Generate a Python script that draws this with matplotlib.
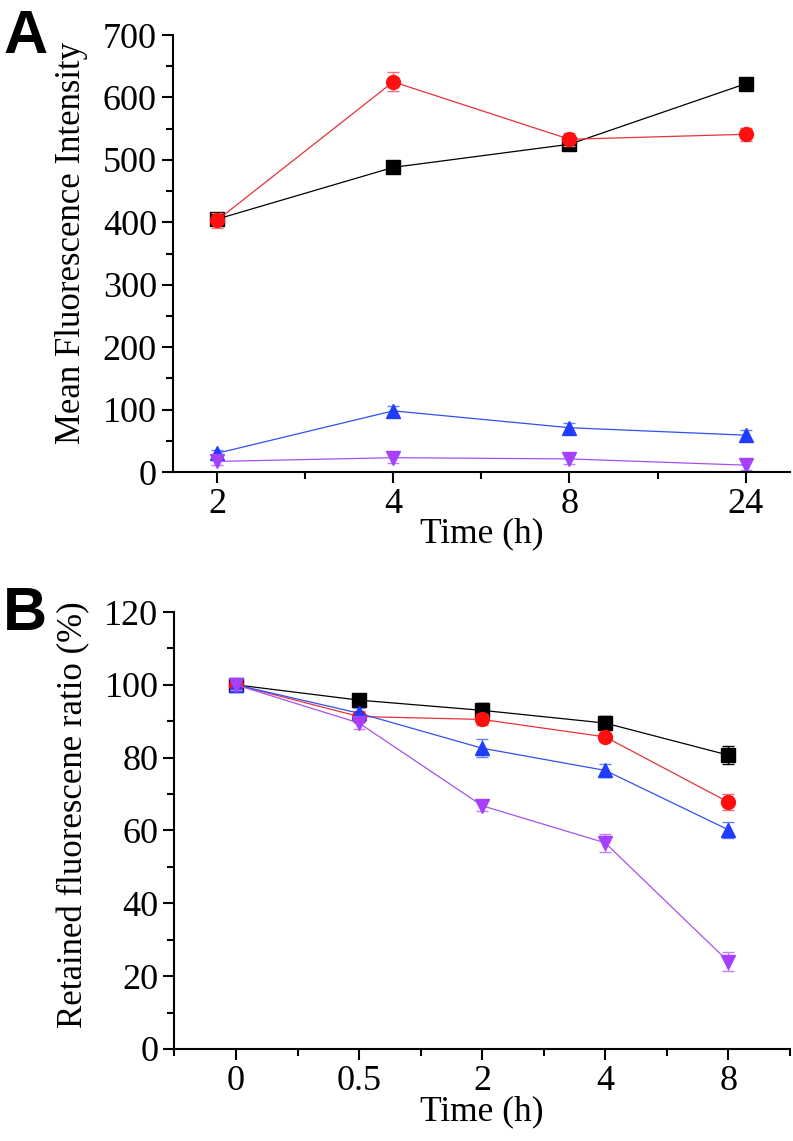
import numpy as np
import matplotlib.pyplot as plt
from matplotlib.ticker import MultipleLocator

plt.rcParams['font.family'] = ['Liberation Serif', 'DejaVu Serif']

# Panel A data
a_labels = ['2', '4', '8', '24']
a_black = [405, 488, 525, 622]
a_black_err = [8, 8, 5, 5]
a_red = [403, 625, 533, 541]
a_red_err = [12, 15, 10, 10]
a_blue = [30, 98, 71, 59]
a_blue_err = [6, 8, 8, 8]
a_purple = [17, 23, 21, 11]
a_purple_err = [5, 8, 8, 8]

# Panel B data
b_labels = ['0', '0.5', '2', '4', '8']
b_black = [100, 95.8, 93.0, 89.5, 80.7]
b_black_err = [1.5, 1.0, 2.0, 2.0, 2.5]
b_red = [100, 91.3, 90.5, 85.7, 67.8]
b_red_err = [1.5, 1.5, 1.5, 1.2, 2.2]
b_blue = [100, 92.2, 82.6, 76.5, 60.2]
b_blue_err = [1.5, 1.5, 2.5, 1.8, 2.2]
b_purple = [100, 89.5, 66.8, 56.6, 24.0]
b_purple_err = [1.5, 1.5, 1.5, 2.5, 2.5]

colors = ['#000000', '#ff1010', '#1f3cff', '#a640ff']
line_colors = ['#000000', '#e8303a', '#3050f0', '#a650f0']
ecolors = ['#000000', '#f07080', '#6080ff', '#c080ff']
markers = ['s', 'o', '^', 'v']

fig = plt.figure(figsize=(7.93, 11.41), dpi=100)
axA = fig.add_axes([0.218, 0.5863, 0.778, 0.383])
axB = fig.add_axes([0.220, 0.0807, 0.776, 0.3829])


def draw(ax, labels, series, errs):
    x = np.arange(len(labels))
    for ys, es, c, lc, ec, m in zip(series, errs, colors, line_colors, ecolors, markers):
        ax.errorbar(x, ys, yerr=es, fmt='none', ecolor=ec, elinewidth=1.0,
                    capsize=4, capthick=1.0)
        ax.plot(x, ys, color=lc, linewidth=0.9)
        ax.plot(x, ys, linestyle='none', marker=m, markersize=10,
                markerfacecolor=c, markeredgecolor=c)
    ax.set_xticks(x)
    ax.set_xticklabels(labels)
    ax.xaxis.set_minor_locator(MultipleLocator(0.5))
    for s in ['top', 'right']:
        ax.spines[s].set_visible(False)
    for s in ['left', 'bottom']:
        ax.spines[s].set_linewidth(1.5)
    ax.tick_params(which='major', direction='out', length=8, width=1.5, labelsize=26)
    ax.tick_params(which='minor', direction='out', length=5, width=1.5)


draw(axA, a_labels, [a_black, a_red, a_blue, a_purple],
     [a_black_err, a_red_err, a_blue_err, a_purple_err])
axA.set_xlim(-0.25, 3.25)
axA.set_ylim(0, 700)
axA.yaxis.set_major_locator(MultipleLocator(100))
axA.yaxis.set_minor_locator(MultipleLocator(50))
axA.set_ylabel('Mean Fluorescence Intensity', fontsize=25)
axA.yaxis.set_label_coords(-0.137, 0.525)
axA.set_xlabel('Time (h)', fontsize=25.5, labelpad=-3)

draw(axB, b_labels, [b_black, b_red, b_blue, b_purple],
     [b_black_err, b_red_err, b_blue_err, b_purple_err])
axB.set_xlim(-0.5, 4.5)
axB.set_ylim(0, 120)
axB.yaxis.set_major_locator(MultipleLocator(20))
axB.yaxis.set_minor_locator(MultipleLocator(10))
axB.set_ylabel('Retained fluorescene ratio (%)', fontsize=25)
axB.yaxis.set_label_coords(-0.137, 0.535)
axB.set_xlabel('Time (h)', fontsize=25.5, labelpad=-2)

fig.text(0.004, 0.992, 'A', fontsize=44, fontweight='bold', family='Liberation Sans', va='top', ha='left')
fig.text(0.004, 0.4865, 'B', fontsize=44, fontweight='bold', family='Liberation Sans', va='top', ha='left')

fig.savefig('out.png', dpi=100)
